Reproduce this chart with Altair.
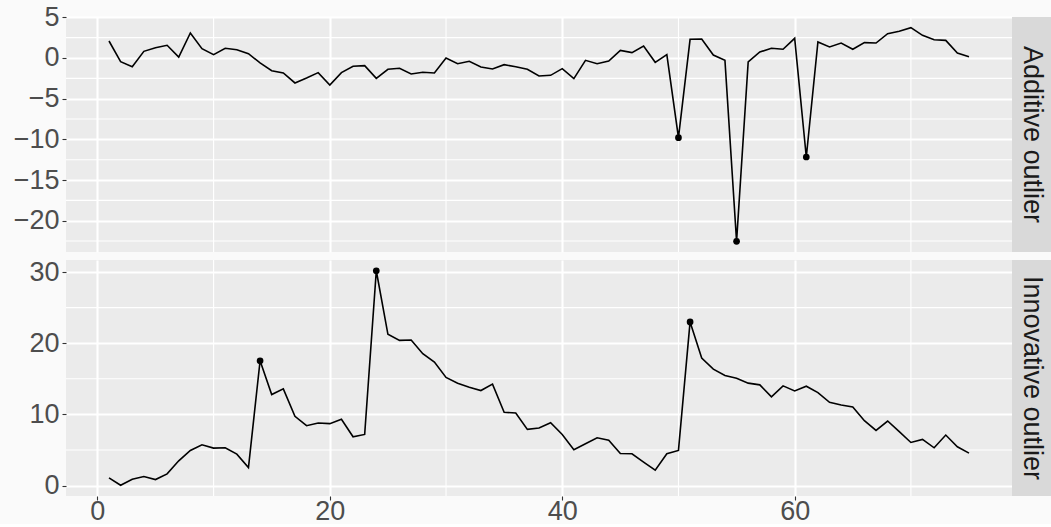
import altair as alt
import pandas as pd

x_vals = list(range(1, 76))

additive = [2.09, -0.45, -1.07, 0.82, 1.27, 1.56, 0.12, 3.07, 1.15, 0.41,
            1.19, 1.02, 0.53, -0.60, -1.56, -1.84, -3.07, -2.46, -1.80, -3.32,
            -1.80, -1.02, -0.94, -2.50, -1.39, -1.27, -1.97, -1.76, -1.84, 0.00,
            -0.70, -0.41, -1.11, -1.35, -0.82, -1.07, -1.39, -2.21, -2.13, -1.31,
            -2.54, -0.29, -0.70, -0.37, 0.94, 0.66, 1.48, -0.53, 0.41, -9.80,
            2.30, 2.34, 0.37, -0.29, -22.54, -0.49, 0.74, 1.19, 1.07, 2.42,
            -12.17, 1.97, 1.35, 1.84, 1.07, 1.89, 1.84, 2.99, 3.28, 3.73,
            2.79, 2.25, 2.17, 0.61, 0.16]

innovative = [1.08, 0.05, 0.89, 1.27, 0.85, 1.65, 3.48, 4.94, 5.74, 5.27,
              5.31, 4.42, 2.54, 17.54, 12.79, 13.59, 9.73, 8.42, 8.79, 8.70,
              9.31, 6.86, 7.19, 30.18, 21.25, 20.40, 20.45, 18.52, 17.35, 15.19,
              14.39, 13.82, 13.35, 14.25, 10.30, 10.20, 7.90, 8.09, 8.84, 7.19,
              5.03, 5.88, 6.72, 6.39, 4.51, 4.47, 3.29, 2.16, 4.47, 4.94,
              22.99, 17.91, 16.36, 15.47, 15.09, 14.39, 14.15, 12.46, 14.01, 13.30,
              13.96, 13.07, 11.71, 11.33, 11.05, 9.12, 7.76, 9.07, 7.57, 6.06,
              6.49, 5.31, 7.10, 5.45, 4.56]

additive_outliers = [50, 55, 61]
innovative_outliers = [14, 24, 51]

x_major = [0, 20, 40, 60]
x_minor = [10, 30, 50, 70]
add_y_major = [-20, -15, -10, -5, 0, 5]
add_y_minor = [-22.5, -17.5, -12.5, -7.5, -2.5, 2.5]
inn_y_major = [0, 10, 20, 30]
inn_y_minor = [5, 15, 25]

PANEL_W = 946
STRIP_W = 39
FONT = "Liberation Sans"
FS = 27


def panel(values, outliers, ydomain, ymajor, yminor, label, height, show_x):
    df = pd.DataFrame({"x": x_vals, "y": values})
    out = df[df["x"].isin(outliers)]
    xscale = alt.Scale(domain=[-2.7, 78.7], nice=False, zero=False)
    yscale = alt.Scale(domain=ydomain, nice=False, zero=False)
    if show_x:
        xaxis = alt.Axis(values=x_major, title=None, grid=True, domain=False,
                         ticks=True, labels=True, format="d", labelPadding=-2)
    else:
        xaxis = alt.Axis(values=x_major, title=None, grid=True, domain=False,
                         ticks=False, labels=False, minExtent=0, maxExtent=0)
    yaxis = alt.Axis(values=ymajor, title=None, grid=True, domain=False,
                     minExtent=66, maxExtent=66, format="d")

    minor_x = alt.Chart(pd.DataFrame({"v": x_minor})).mark_rule(
        color="white", strokeWidth=1.1).encode(x=alt.X("v:Q", scale=xscale, axis=xaxis))
    minor_y = alt.Chart(pd.DataFrame({"v": yminor})).mark_rule(
        color="white", strokeWidth=1.1).encode(y=alt.Y("v:Q", scale=yscale, axis=yaxis))
    line = alt.Chart(df).mark_line(color="black", strokeWidth=1.6).encode(
        x=alt.X("x:Q", scale=xscale, axis=xaxis),
        y=alt.Y("y:Q", scale=yscale, axis=yaxis))
    pts = alt.Chart(out).mark_point(filled=True, color="black", size=45, opacity=1).encode(
        x=alt.X("x:Q", scale=xscale, axis=xaxis),
        y=alt.Y("y:Q", scale=yscale, axis=yaxis))
    lab = pd.DataFrame({"label": [label]})
    strip = alt.Chart(lab).mark_rect(color="#D9D9D9").encode(
        x=alt.value(PANEL_W), x2=alt.value(PANEL_W + STRIP_W),
        y=alt.value(0), y2=alt.value(height))
    strip_text = alt.Chart(lab).mark_text(
        angle=90, font=FONT, fontSize=FS, color="#1A1A1A",
        align="center", baseline="middle").encode(
        x=alt.value(PANEL_W + STRIP_W / 2), y=alt.value(height / 2),
        text="label:N")
    return alt.layer(minor_x, minor_y, line, pts, strip, strip_text).properties(
        width=PANEL_W, height=height)


top = panel(additive, additive_outliers, [-23.85, 5.04], add_y_major, add_y_minor,
            "Additive outlier", 235, False)
bottom = panel(innovative, innovative_outliers, [-1.46, 31.69], inn_y_major, inn_y_minor,
               "Innovative outlier", 236, True)

chart = alt.vconcat(top, bottom, spacing=5).properties(
    background="#FAFAFA",
    padding={"left": 0, "top": 3, "right": 0, "bottom": 0},
).configure_view(
    fill="#EBEBEB", stroke=None
).configure_axis(
    gridColor="white", gridWidth=2.1,
    tickColor="#333333", tickSize=4, tickWidth=1.1,
    labelColor="#4D4D4D", labelFont=FONT, labelFontSize=FS, labelPadding=3,
)

chart.save("out.html", embed_options={"renderer": "svg", "actions": False})
